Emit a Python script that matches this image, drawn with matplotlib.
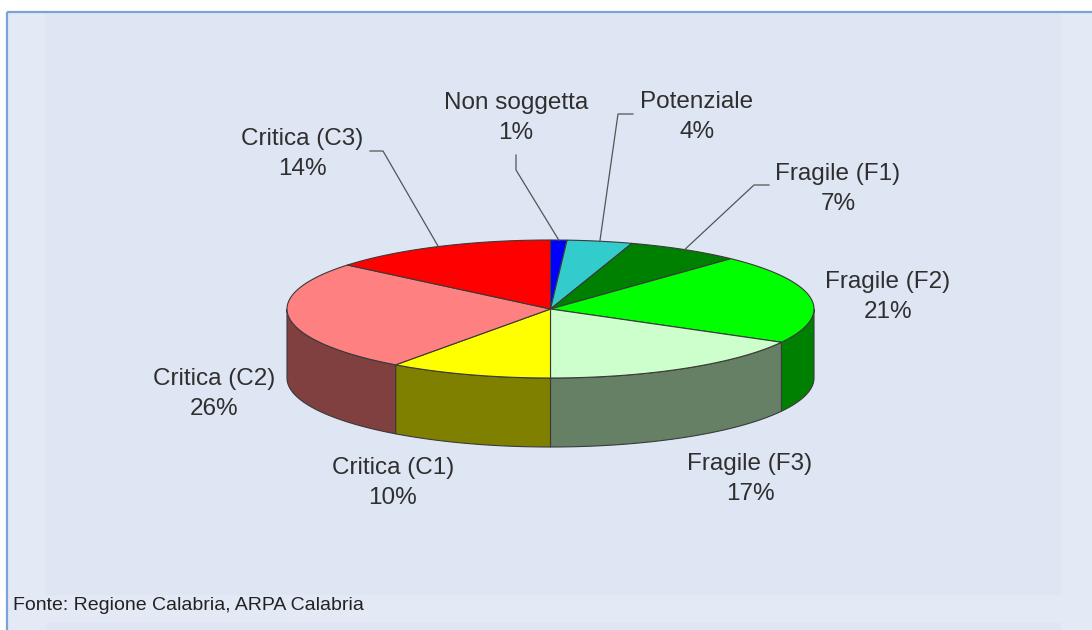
import numpy as np
import matplotlib
matplotlib.use("Agg")
import matplotlib.pyplot as plt
from matplotlib.patches import Polygon, Rectangle
from matplotlib import colors as mcolors

plt.rcParams['font.family'] = ['Liberation Sans', 'DejaVu Sans']

# slices, clockwise from 12 o'clock
labels = ["Non soggetta", "Potenziale", "Fragile (F1)", "Fragile (F2)",
          "Fragile (F3)", "Critica (C1)", "Critica (C2)", "Critica (C3)"]
shares = [1, 4, 7, 21, 17, 10, 26, 14]
top_colors = ["#0000ff", "#33cccc", "#008000", "#00ff00",
              "#ccffcc", "#ffff00", "#ff8080", "#ff0000"]
source = "Fonte: Regione Calabria, ARPA Calabria"

# layout (figure pixels, y downwards)
W, H = 1092, 630
cx, cy, ra, rb, depth = 550.5, 309, 263.5, 69, 69
label_pos = [(516, 118), (697, 117), (838, 189), (888, 297),
             (750, 479), (393, 483), (214, 394), (302, 154)]
# leader lines: label-side anchor and elbow (None = no leader)
leaders = [((516, 155), (516, 170)), ((633, 114), (618, 114)),
           ((769, 185), (754, 185)), None, None, None, None,
           ((370, 151), (383, 151))]

fig = plt.figure(figsize=(W / 100, H / 100), dpi=100, facecolor="white")
ax = fig.add_axes([0, 0, 1, 1])
ax.set_xlim(0, W)
ax.set_ylim(H, 0)
ax.axis("off")

# panel backgrounds and frame
ax.add_patch(Rectangle((7, 12), W - 7, H - 12, color="#e3e9f5", zorder=0))
ax.add_patch(Rectangle((46, 14), 1014, 580, color="#dee5f3", zorder=0))
ax.add_patch(Rectangle((46, 623), 1014, 10, color="#dee5f3", zorder=0))
ax.plot([7, W], [12, 12], color="#7ba3d6", lw=1.6, zorder=1, solid_capstyle="butt")
ax.plot([7, 7], [12, H], color="#7ba3d6", lw=1.6, zorder=1, solid_capstyle="butt")


def ell(theta):
    t = np.radians(theta)
    return cx + ra * np.sin(t), cy - rb * np.cos(t)


edge = "#3a3a3a"
bounds = np.concatenate([[0], np.cumsum(shares)]) * 3.6

# sides of the front half
for i, col in enumerate(top_colors):
    t0, t1 = max(bounds[i], 90), min(bounds[i + 1], 270)
    if t1 <= t0:
        continue
    th = np.linspace(t0, t1, 80)
    xs, ys = ell(th)
    pts = np.column_stack([np.concatenate([xs, xs[::-1]]),
                           np.concatenate([ys, ys[::-1] + depth])])
    side = np.array(mcolors.to_rgb(col)) * 0.5
    ax.add_patch(Polygon(pts, closed=True, facecolor=side, edgecolor=edge,
                         lw=0.8, zorder=2))

# top faces
for i, col in enumerate(top_colors):
    th = np.linspace(bounds[i], bounds[i + 1], 120)
    xs, ys = ell(th)
    pts = np.column_stack([np.concatenate([[cx], xs]), np.concatenate([[cy], ys])])
    ax.add_patch(Polygon(pts, closed=True, facecolor=col, edgecolor=edge,
                         lw=0.8, zorder=3))

# labels and leader lines
for i, (name, val) in enumerate(zip(labels, shares)):
    lx, ly = label_pos[i]
    ax.text(lx, ly, f"{name}\n{val}%", ha="center", va="center",
            multialignment="center", fontsize=17.5, color="#2f2f2f",
            linespacing=1.48, zorder=5)
    if leaders[i] is not None:
        mid = (bounds[i] + bounds[i + 1]) / 2
        px, py = ell(mid)
        (ax0, ay0), (ax1, ay1) = leaders[i]
        ax.plot([ax0, ax1, px], [ay0, ay1, py], color="#555555", lw=0.9, zorder=4)

ax.text(13, 606, source, ha="left", va="center", fontsize=14, color="#222222")

fig.savefig("out.png", dpi=100, facecolor=fig.get_facecolor())
